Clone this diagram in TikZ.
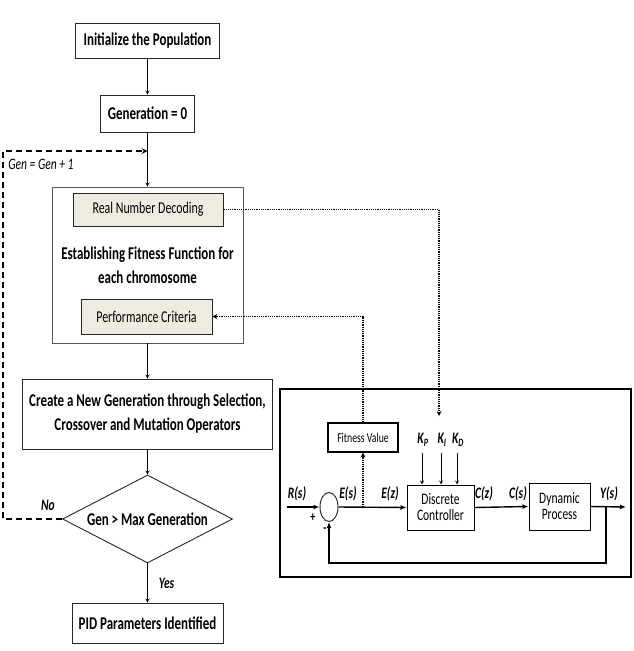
\documentclass[tikz,border=0pt]{standalone}
\usepackage{fontspec}
\usepackage{tikz}
\usetikzlibrary{shapes.geometric, arrows, calc}
\newfontfamily\carl{Carlito}[FakeStretch=0.72]
\definecolor{tanbox}{HTML}{EEECE1}
\tikzstyle{process} = [rectangle, inner sep=0pt, text centered, align=center, draw=black!85, line width=0.9pt, font=\carl\bfseries\fontsize{18}{24}\selectfont]
\tikzstyle{subproc} = [rectangle, inner sep=0pt, text centered, draw=black!85, fill=tanbox, line width=0.9pt, font=\carl\fontsize{16.5}{18}\selectfont]
\tikzstyle{decision} = [diamond, aspect=1.9, inner sep=0pt, text centered, draw=black!85, line width=0.9pt, font=\carl\bfseries\fontsize{18}{24}\selectfont]
\tikzstyle{block} = [rectangle, inner sep=0pt, text centered, align=center, draw=black, line width=1pt, font=\carl\fontsize{16}{16}\selectfont]
\tikzstyle{sig} = [inner sep=0pt, font=\carl\bfseries\itshape\fontsize{16}{16}\selectfont]
\tikzstyle{arrow} = [->, >=stealth, line width=0.8pt]
\tikzstyle{sigline} = [-{Latex[length=6pt,width=5pt]}, line width=1.4pt]
\tikzstyle{dotarrow} = [->, >=stealth, line width=1.2pt, densely dotted]
\tikzstyle{loopline} = [->, >=stealth, line width=1.6pt, dash pattern=on 6pt off 4pt]
\usetikzlibrary{arrows.meta}

\begin{document}
\begin{tikzpicture}[x=1pt, y=-1pt]
\useasboundingbox (0,0) rectangle (634,651);

% genetic algorithm flow
\node (init) [process, minimum width=144pt, minimum height=35pt] at (147.5,40.5) {Initialize the Population};
\node (gen0) [process, minimum width=94pt, minimum height=37pt] at (147.5,113.5) {Generation = 0};
\node (fit) [process, draw=black!65, minimum width=191pt, minimum height=156pt] at (147.5,265) {Establishing Fitness Function for\\each chromosome};
\node (rnd) [subproc, minimum width=150pt, minimum height=33pt] at (148,209.5) {Real Number Decoding};
\node (perf) [subproc, minimum width=131pt, minimum height=35pt] at (146.5,316.5) {Performance Criteria};
\node (newgen) [process, minimum width=250pt, minimum height=70pt] at (147.5,414) {Create a New Generation through Selection,\\Crossover and Mutation Operators};
\node (dec) [decision, minimum width=170pt, minimum height=88pt] at (147.5,519) {Gen > Max Generation};
\node (pid) [process, minimum width=151pt, minimum height=40pt] at (147.5,623) {PID Parameters Identified};

\coordinate (lin) at (147.5,151);
\coordinate (lc1) at (3,519);
\coordinate (lc2) at (3,151);

\draw [arrow] (init) -- (gen0);
\draw [arrow] (gen0) -- (fit);
\draw [arrow] (fit) -- (newgen);
\draw [arrow] (newgen) -- (dec);
\draw [arrow] (dec) -- node[sig, anchor=west, xshift=11pt] {Yes} (pid);
\draw [loopline] (dec.west) -- (lc1) -- (lc2) -- (lin);
\node (no) [sig] at (48,505) {No};
\node (incr) [inner sep=0pt, font=\carl\itshape\fontsize{16}{16}\selectfont] at (41,164) {Gen = Gen + 1};

% closed loop with discrete PID
\draw [line width=2.2pt] (280,389) rectangle (631,577);
\node (fitval) [block, line width=1.2pt, font=\carl\fontsize{13.5}{14}\selectfont, minimum width=70pt, minimum height=29pt] at (363,437.5) {Fitness Value};
\node (sum) [ellipse, draw=black!80, line width=1pt, minimum width=18pt, minimum height=29pt, inner sep=0pt] at (329,507) {};
\node (ctrl) [block, minimum width=67pt, minimum height=45pt] at (440.5,507.5) {Discrete\\Controller};
\node (dyn) [block, minimum width=61pt, minimum height=47pt] at (559.5,506.5) {Dynamic\\Process};

\coordinate (rin) at (287,507);
\coordinate (yout) at (626,507);
\coordinate (tap) at (606,507);
\coordinate (fbk) at (606,563);
\coordinate (esig) at (363,507);
\coordinate (gainin) at (439,416);
\coordinate (kp) at (422,453);
\coordinate (ki) at (441,453);
\coordinate (kd) at (457,453);

\draw [sigline] (rin) -- (sum.west);
\draw [sigline] (sum.east) -- (ctrl.west);
\draw [sigline] (ctrl.east) -- (dyn.west);
\draw [sigline] (dyn.east) -- (yout);
\draw [sigline] (tap) -- (fbk) -| (sum.south);
\draw [arrow] (kp) -- (kp |- ctrl.north);
\draw [arrow] (ki) -- (ki |- ctrl.north);
\draw [arrow] (kd) -- (kd |- ctrl.north);

\node (rs) [sig] at (297,494) {R(s)};
\node (es) [sig] at (348,494) {E(s)};
\node (ez) [sig] at (390,494) {E(z)};
\node (cz) [sig] at (484,494) {C(z)};
\node (cs) [sig] at (518,494) {C(s)};
\node (ys) [sig] at (609,494) {Y(s)};
\node (plus) [sig, font=\carl\bfseries\fontsize{14}{14}\selectfont] at (313,518) {+};
\node (minus) [sig, font=\carl\bfseries\fontsize{14}{14}\selectfont] at (325,530) {-};
\node (kpl) [sig] at (423,440) {K\textsubscript{P}};
\node (kil) [sig] at (442,440) {K\textsubscript{I}};
\node (kdl) [sig] at (458,440) {K\textsubscript{D}};

% links between the two parts
\draw [dotarrow] (esig) -- (fitval.south);
\draw [dotarrow] (fitval.north) |- (perf.east);
\draw [dotarrow] (rnd.east) -| (gainin);
\end{tikzpicture}
\end{document}
